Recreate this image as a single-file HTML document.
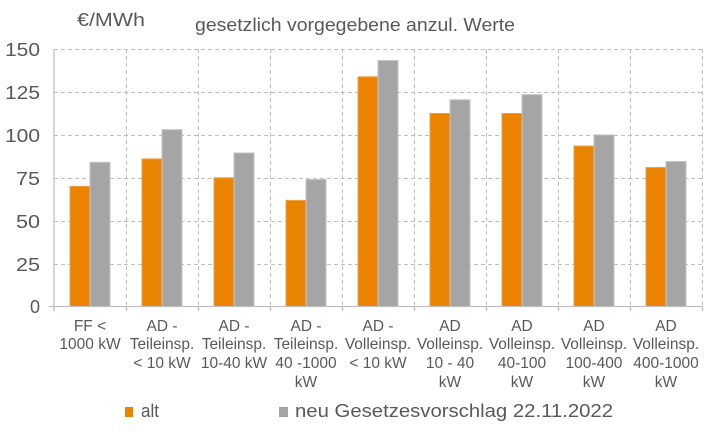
<!DOCTYPE html>
<html><head><meta charset="utf-8"><style>body{margin:0;background:#fff}svg{display:block}text{font-family:"Liberation Sans",Arial,sans-serif;fill:#595959}</style></head><body>
<svg width="721" height="432" viewBox="0 0 721 432">
<text x="77" y="26" font-size="18" textLength="68" lengthAdjust="spacingAndGlyphs">€/MWh</text>
<text x="195" y="31" font-size="18" textLength="320" lengthAdjust="spacingAndGlyphs">gesetzlich vorgegebene anzul. Werte</text>
<g stroke="#BFBFBF" stroke-dasharray="4,3" stroke-width="1">
<line x1="54" x2="702" y1="49.5" y2="49.5"/><line x1="54" x2="702" y1="92.5" y2="92.5"/><line x1="54" x2="702" y1="135.5" y2="135.5"/><line x1="54" x2="702" y1="178.5" y2="178.5"/><line x1="54" x2="702" y1="221.5" y2="221.5"/><line x1="54" x2="702" y1="264.5" y2="264.5"/>
<line x1="126.5" x2="126.5" y1="49" y2="306"/><line x1="198.5" x2="198.5" y1="49" y2="306"/><line x1="270.5" x2="270.5" y1="49" y2="306"/><line x1="342.5" x2="342.5" y1="49" y2="306"/><line x1="414.5" x2="414.5" y1="49" y2="306"/><line x1="486.5" x2="486.5" y1="49" y2="306"/><line x1="558.5" x2="558.5" y1="49" y2="306"/><line x1="630.5" x2="630.5" y1="49" y2="306"/><line x1="702.5" x2="702.5" y1="49" y2="306"/>
</g>
<g font-size="18" text-anchor="end">
<text x="40" y="56" textLength="35" lengthAdjust="spacingAndGlyphs">150</text><text x="40" y="99" textLength="35" lengthAdjust="spacingAndGlyphs">125</text><text x="40" y="142" textLength="35" lengthAdjust="spacingAndGlyphs">100</text><text x="40" y="185" textLength="24" lengthAdjust="spacingAndGlyphs">75</text><text x="40" y="228" textLength="24" lengthAdjust="spacingAndGlyphs">50</text><text x="40" y="271" textLength="24" lengthAdjust="spacingAndGlyphs">25</text><text x="40" y="313">0</text>
</g>
<g stroke-width="1">
<g fill="#E98300" stroke="#F0A040">
<rect x="70" y="186.4" width="20" height="120.1"/>
<rect x="142" y="158.9" width="20" height="147.6"/>
<rect x="214" y="177.8" width="20" height="128.7"/>
<rect x="286" y="200.4" width="20" height="106.1"/>
<rect x="358" y="76.8" width="20" height="229.7"/>
<rect x="430" y="113.5" width="20" height="193"/>
<rect x="502" y="113.5" width="20" height="193"/>
<rect x="574" y="146" width="20" height="160.5"/>
<rect x="646" y="167.5" width="20" height="139"/>
</g>
<g fill="#A5A5A5" stroke="#C4C4C4">
<rect x="90" y="162.3" width="20" height="144.2"/>
<rect x="162" y="129.7" width="20" height="176.8"/>
<rect x="234" y="153" width="20" height="153.5"/>
<rect x="306" y="179.5" width="20" height="127"/>
<rect x="378" y="60.5" width="20" height="246"/>
<rect x="450" y="99.8" width="20" height="206.7"/>
<rect x="522" y="94.6" width="20" height="211.9"/>
<rect x="594" y="134.9" width="20" height="171.6"/>
<rect x="666" y="161.5" width="20" height="145"/>
</g>
</g>
<g stroke="#BFBFBF" stroke-width="1.3">
<line x1="54" x2="54" y1="49" y2="311"/><line x1="49" x2="702" y1="306.5" y2="306.5"/>
<line x1="126.5" x2="126.5" y1="306" y2="311"/><line x1="198.5" x2="198.5" y1="306" y2="311"/><line x1="270.5" x2="270.5" y1="306" y2="311"/><line x1="342.5" x2="342.5" y1="306" y2="311"/><line x1="414.5" x2="414.5" y1="306" y2="311"/><line x1="486.5" x2="486.5" y1="306" y2="311"/><line x1="558.5" x2="558.5" y1="306" y2="311"/><line x1="630.5" x2="630.5" y1="306" y2="311"/><line x1="702.5" x2="702.5" y1="306" y2="311"/>
</g>
<g font-size="15.5" text-anchor="middle">
<text x="90" y="331">FF &lt;</text><text x="90" y="349">1000 kW</text>
<text x="162" y="331">AD -</text><text x="162" y="349">Teileinsp.</text><text x="162" y="368">&lt; 10 kW</text>
<text x="234" y="331">AD -</text><text x="234" y="349">Teileinsp.</text><text x="234" y="368">10-40 kW</text>
<text x="306" y="331">AD -</text><text x="306" y="349">Teileinsp.</text><text x="306" y="368">40 -1000</text><text x="306" y="387">kW</text>
<text x="378" y="331">AD -</text><text x="378" y="349">Volleinsp.</text><text x="378" y="368">&lt; 10 kW</text>
<text x="450" y="331">AD</text><text x="450" y="349">Volleinsp.</text><text x="450" y="368">10 - 40</text><text x="450" y="387">kW</text>
<text x="522" y="331">AD</text><text x="522" y="349">Volleinsp.</text><text x="522" y="368">40-100</text><text x="522" y="387">kW</text>
<text x="594" y="331">AD</text><text x="594" y="349">Volleinsp.</text><text x="594" y="368">100-400</text><text x="594" y="387">kW</text>
<text x="666" y="331">AD</text><text x="666" y="349">Volleinsp.</text><text x="666" y="368">400-1000</text><text x="666" y="387">kW</text>
</g>
<rect x="125" y="407" width="8" height="10" fill="#E98300"/>
<text x="141" y="417" font-size="18" textLength="18" lengthAdjust="spacingAndGlyphs">alt</text>
<rect x="279" y="407" width="9" height="10" fill="#A5A5A5"/>
<text x="295" y="417" font-size="18" textLength="318" lengthAdjust="spacingAndGlyphs">neu Gesetzesvorschlag 22.11.2022</text>
</svg>
</body></html>
